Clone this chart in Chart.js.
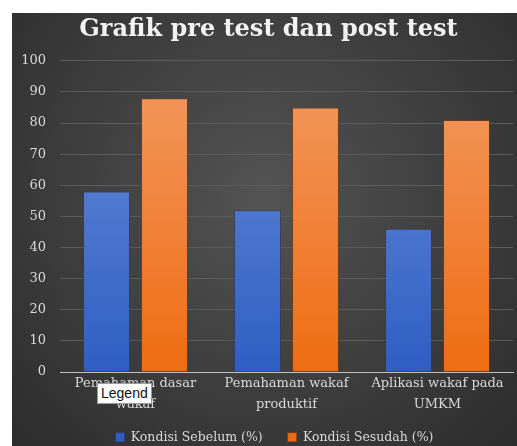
<!DOCTYPE html>
<html>
<head>
<meta charset="utf-8">
<script src="https://cdn.jsdelivr.net/npm/chart.js@4/dist/chart.umd.min.js"></script>
<style>
  html, body { margin: 0; padding: 0; background: #ffffff; }
  body { width: 517px; height: 446px; position: relative; overflow: hidden; }
  #wrap { position: absolute; left: 12px; top: 13px; width: 505px; height: 433px; }
  #tip { position: absolute; left: 97px; top: 383px; height: 19px; padding: 0 3px;
         background: #ffffff; border: 1px solid #9a9a9a; color: #111;
         font-family: "Liberation Sans", Arial, sans-serif; font-size: 14px; line-height: 19px; }
</style>
</head>
<body>
<div id="wrap"><canvas id="c"></canvas></div>
<div id="tip">Legend</div>
<script>
const categories = [["Pemahaman dasar", "wakaf"], ["Pemahaman wakaf", "produktif"], ["Aplikasi wakaf pada", "UMKM"]];
const seriesNames = ["Kondisi Sebelum (%)", "Kondisi Sesudah (%)"];
const sebelum = [58, 52, 46];
const sesudah = [88, 85, 81];
const yTicks = [0, 10, 20, 30, 40, 50, 60, 70, 80, 90, 100];

const serif = "'DejaVu Serif', 'Liberation Serif', serif";

function vGrad(ctx, top, bottom) {
  const chart = ctx.chart;
  const area = chart.chartArea;
  if (!area) return top;
  const g = chart.ctx.createLinearGradient(0, area.top, 0, area.bottom);
  g.addColorStop(0, top);
  g.addColorStop(1, bottom);
  return g;
}

const bgPlugin = {
  id: 'bg',
  beforeDraw(chart) {
    const { ctx, width, height } = chart;
    ctx.save();
    const g = ctx.createRadialGradient(width * 0.5, height * 0.42, 10, width * 0.5, height * 0.42, width * 0.72);
    g.addColorStop(0, '#525252');
    g.addColorStop(1, '#2b2b2b');
    ctx.fillStyle = g;
    ctx.fillRect(0, 0, width, height);
    ctx.restore();
  }
};

// keep the legend compact vertically while leaving wide horizontal gaps,
// let the two-line category labels overflow their box, nudge legend/title
const layoutTweakPlugin = {
  id: 'layoutTweak',
  beforeUpdate(chart) {
    const lg = chart.legend;
    if (lg && !lg._patched) {
      const orig = lg.fit;
      lg.fit = function () { orig.call(this); this.height = 40; };
      lg._patched = true;
    }
  },
  afterLayout(chart) {
    if (chart.legend) { chart.legend.left += 12; chart.legend.right += 12; }
    if (chart.titleBlock) { chart.titleBlock.left += 6; chart.titleBlock.right += 6; }
    if (chart.scales.x) { chart.scales.x._computeLabelArea = () => undefined; }
  }
};

new Chart(document.getElementById('c'), {
  type: 'bar',
  data: {
    labels: categories,
    datasets: [
      {
        label: seriesNames[0],
        data: sebelum,
        backgroundColor: (ctx) => vGrad(ctx, '#6a8fd8', '#2f5ec4'),
        borderColor: 'rgba(40,60,110,0.6)',
        borderWidth: 1,
        borderSkipped: 'bottom',
        categoryPercentage: 0.768,
        barPercentage: 0.81
      },
      {
        label: seriesNames[1],
        data: sesudah,
        backgroundColor: (ctx) => vGrad(ctx, '#f29a62', '#ef6c12'),
        borderColor: 'rgba(120,60,20,0.6)',
        borderWidth: 1,
        borderSkipped: 'bottom',
        categoryPercentage: 0.768,
        barPercentage: 0.81
      }
    ]
  },
  options: {
    responsive: true,
    maintainAspectRatio: false,
    animation: false,
    layout: { padding: { left: 0, right: 4, top: 0, bottom: 0 } },
    plugins: {
      title: {
        display: true,
        text: 'Grafik pre test dan post test',
        color: '#f2f2f2',
        font: { family: serif, size: 24, weight: 'bold' },
        padding: { top: 2, bottom: 17 }
      },
      legend: {
        position: 'bottom',
        labels: {
          color: '#d9d9d9',
          font: { family: serif, size: 12.5 },
          boxWidth: 9,
          boxHeight: 9,
          padding: 25
        }
      },
      tooltip: { enabled: false }
    },
    scales: {
      x: {
        afterFit(scale) { scale.height = 34; },
        grid: { display: false, drawTicks: false },
        border: { display: true, color: '#bfbfbf', width: 1 },
        ticks: { color: '#d9d9d9', font: { family: serif, size: 13, lineHeight: 1.6 }, maxRotation: 0, autoSkip: false, padding: 1 }
      },
      y: {
        min: 0, max: 100,
        afterBuildTicks(scale) { scale.ticks = yTicks.map(v => ({ value: v })); },
        afterFit(scale) { scale.width = 48; },
        grid: { color: '#5c5c5c', lineWidth: 1, drawTicks: false },
        border: { display: false },
        ticks: { color: '#d9d9d9', font: { family: serif, size: 13 }, padding: 14 }
      }
    }
  },
  plugins: [bgPlugin, layoutTweakPlugin]
});
</script>
</body>
</html>
